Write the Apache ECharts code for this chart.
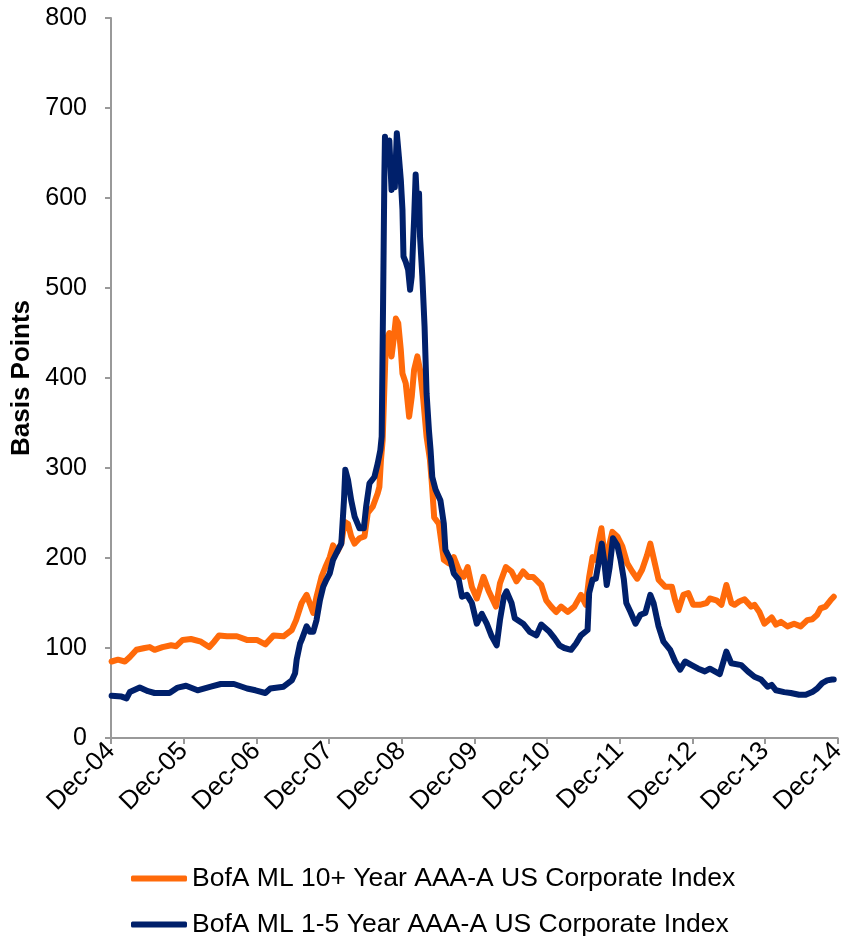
<!DOCTYPE html>
<html>
<head>
<meta charset="utf-8">
<script src="https://cdn.jsdelivr.net/npm/echarts@6/dist/echarts.min.js"></script>
<style>
html,body{margin:0;padding:0;background:#fff;}
#chart{width:849px;height:936px;}
</style>
</head>
<body>
<div id="chart"></div>
<script>
// x values: months elapsed since Dec-04; y values: spread in basis points
const xTickLabels = ['Dec-04','Dec-05','Dec-06','Dec-07','Dec-08','Dec-09','Dec-10','Dec-11','Dec-12','Dec-13','Dec-14'];
const seriesNames = ['BofA ML 10+ Year AAA-A US Corporate Index','BofA ML 1-5 Year AAA-A US Corporate Index'];

const tenPlusMonths = [0.1,1.15,2.29,3.11,4.21,5.57,6.39,7.2,8.51,9.94,10.76,11.84,13.21,14.85,16.21,17.03,17.85,19.16,20.79,22.43,24.07,25.49,26.85,28.49,29.85,30.57,31.48,32.3,33.4,33.94,34.76,35.41,36.13,36.67,37.38,38.03,38.59,39.13,39.67,40.23,41.04,41.86,42.4,43.22,44.04,44.32,44.58,44.86,45.24,45.4,45.96,46.33,46.66,47.04,47.43,47.86,48.13,48.67,49.23,49.66,50.05,50.59,51.03,51.57,52.11,52.67,52.96,53.37,54.14,54.96,55.78,56.6,57.42,58.24,58.89,59.59,60.41,61.51,62.33,63.57,64.23,65.21,66.14,66.96,68.06,68.88,69.7,71.05,71.87,72.69,73.51,74.33,75.43,76.51,77.6,78.42,78.96,79.52,80.06,80.6,80.99,81.32,81.7,82.24,82.79,83.61,84.43,85.25,86.07,86.89,87.7,88.52,89.06,89.6,90.42,91.52,92.62,93.16,93.7,94.52,95.33,96.15,97.25,98.35,98.89,99.98,100.8,101.62,102.44,102.98,103.8,104.62,105.71,106.25,107.07,107.89,109.09,109.81,110.63,111.7,112.8,113.9,114.98,115.8,116.62,117.17,117.99,118.81,119.35];
const tenPlusBps = [85,87,85,90,98,100,101,98,101,103,102,109,110,107,101,107,114,113,113,109,109,104,114,113,120,131,150,159,139,157,179,190,201,214,207,216,240,238,224,216,222,224,250,257,272,279,309,331,409,442,450,424,442,466,461,431,405,394,357,379,409,424,409,376,335,309,285,245,238,198,194,201,187,179,190,168,155,179,164,146,172,190,185,174,185,179,179,170,153,146,140,146,140,146,159,148,179,201,198,220,233,213,190,213,229,224,213,194,185,177,187,203,216,200,176,168,168,153,142,159,161,148,148,150,155,153,148,170,150,148,152,154,146,148,140,127,134,126,129,124,127,124,131,132,137,144,146,153,157];

const oneFiveMonths = [0.1,1.75,2.57,3.11,4.75,6.11,7.2,9.66,11.02,12.39,14.29,16.49,18.12,20.3,22.48,23.85,25.49,26.31,28.49,29.85,30.4,30.66,31.22,31.48,32.3,32.86,33.4,33.94,34.5,35.04,35.58,36.13,36.67,37.49,38.03,38.47,38.69,39.13,39.67,40.23,41.04,41.75,42.13,42.68,43.5,44.04,44.48,44.7,44.86,45.02,45.14,45.24,45.56,45.96,46.33,46.66,46.87,47.2,47.59,47.86,48.13,48.3,48.67,49.07,49.39,49.66,49.88,50.05,50.31,50.59,50.87,51.03,51.41,51.78,52.11,52.5,52.77,53.05,53.59,54.4,54.96,55.22,56.04,56.6,57.42,57.96,58.78,59.59,60.41,61.23,62.05,62.87,63.69,64.23,64.88,65.32,66.14,66.68,68.06,69.15,70.24,71.05,72.41,73.23,74.05,74.87,75.97,76.79,77.6,78.7,78.96,79.52,80.06,80.5,81.04,81.42,81.86,82.35,82.89,83.61,84.15,84.69,85.09,85.79,86.61,87.43,88.24,89.06,89.6,90.42,91.24,92.34,93.16,93.98,94.8,95.89,96.97,98.07,98.89,100.52,101.23,101.62,102.44,104.08,105.16,106.25,107.34,108.43,109.09,109.81,111.17,112.26,113.62,114.72,115.8,116.62,117.44,118.26,119.08,119.35];
const oneFiveBps = [47,46,44,51,56,52,50,50,56,58,53,57,60,60,55,53,50,55,57,64,72,87,105,109,124,118,118,131,153,168,176,183,198,209,216,264,298,287,264,246,233,233,257,283,290,305,320,335,439,542,624,668,642,664,609,638,612,672,642,620,587,535,529,520,498,513,550,576,626,587,605,557,513,457,383,342,320,290,276,264,238,209,198,183,176,157,159,150,127,138,127,113,103,131,157,163,150,133,127,118,114,126,118,111,103,100,98,105,114,120,161,176,177,194,216,198,170,190,222,214,198,176,150,140,127,137,139,159,150,124,107,98,85,76,85,81,77,74,77,71,87,96,83,81,74,68,65,57,59,53,51,50,48,48,51,55,61,64,65,65];

const tenPlusData = tenPlusMonths.map((m, i) => [m, tenPlusBps[i]]);
const oneFiveData = oneFiveMonths.map((m, i) => [m, oneFiveBps[i]]);

const FONT = '"Liberation Sans", Arial, sans-serif';
const ORANGE = '#FF6A0A';
const NAVY = '#00206B';

function legendFor(name, top) {
  return {
    orient: 'vertical',
    left: 126,
    top: top,
    icon: 'roundRect',
    itemWidth: 56,
    itemHeight: 6,
    textStyle: {fontFamily: FONT, fontSize: 26.5, color: '#000'},
    data: [name]
  };
}

const chart = echarts.init(document.getElementById('chart'), null, {renderer: 'canvas'});
chart.setOption({
  animation: false,
  backgroundColor: '#ffffff',
  textStyle: {fontFamily: FONT, color: '#000'},
  grid: {left: 111, right: 6, top: 18, bottom: 198, containLabel: false},
  legend: [legendFor(seriesNames[0], 860), legendFor(seriesNames[1], 906)],
  xAxis: {
    type: 'value',
    min: 0,
    max: 120,
    interval: 12,
    splitLine: {show: false},
    axisLine: {show: true, onZero: false, lineStyle: {color: '#999', width: 2}},
    axisTick: {show: true, inside: false, length: 6, lineStyle: {color: '#999', width: 2}},
    axisLabel: {
      rotate: 45,
      margin: 9,
      fontSize: 26,
      fontFamily: FONT,
      color: '#000',
      formatter: v => xTickLabels[Math.round(v / 12)]
    }
  },
  yAxis: {
    type: 'value',
    min: 0,
    max: 800,
    interval: 100,
    name: 'Basis Points',
    nameLocation: 'middle',
    nameGap: 75,
    nameTextStyle: {fontFamily: FONT, fontSize: 26, fontWeight: 'bold', color: '#000'},
    splitLine: {show: false},
    axisLine: {show: true, lineStyle: {color: '#999', width: 2}},
    axisTick: {show: true, inside: false, length: 6, lineStyle: {color: '#999', width: 2}},
    axisLabel: {margin: 24, fontSize: 25, fontFamily: FONT, color: '#000'}
  },
  series: [
    {
      name: seriesNames[0],
      type: 'line',
      data: tenPlusData,
      symbol: 'none',
      color: ORANGE,
      itemStyle: {color: ORANGE},
      lineStyle: {width: 6, color: ORANGE, cap: 'round', join: 'round'}
    },
    {
      name: seriesNames[1],
      type: 'line',
      data: oneFiveData,
      symbol: 'none',
      color: NAVY,
      itemStyle: {color: NAVY},
      lineStyle: {width: 6, color: NAVY, cap: 'round', join: 'round'}
    }
  ]
});
</script>
</body>
</html>
